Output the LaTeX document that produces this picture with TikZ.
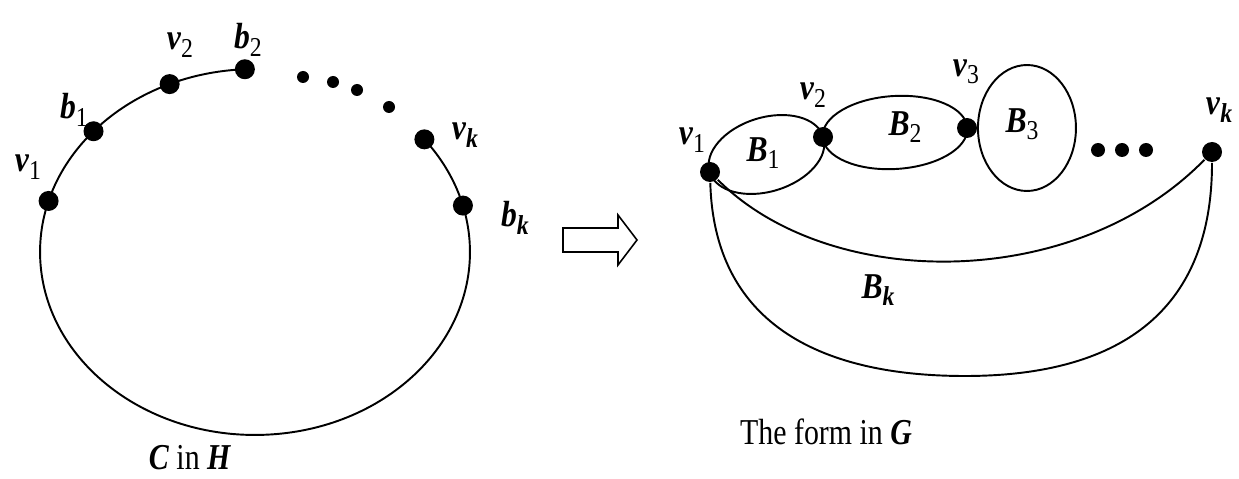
\documentclass[tikz,border=0pt]{standalone}
\usepackage{fontspec}
\setmainfont{Liberation Serif}
\usetikzlibrary{positioning}

\newcommand{\sym}[2]{\textbf{\textit{#1}}\raisebox{-0.45ex}{\fontsize{13.5}{13.5}\selectfont #2}}
\newcommand{\kk}{\textbf{\textit{k}}}

\begin{document}
\begin{tikzpicture}[
    x=0.02cm, y=0.02cm,
    line width=1.1pt,
    font=\fontsize{18}{21}\selectfont,
    vertex/.style={circle, fill=black, inner sep=0pt, minimum size=0.4cm},
    smalldot/.style={circle, fill=black, inner sep=0pt, minimum size=0.24cm},
    lab/.style={inner sep=0pt, yscale=1.15},
    caption/.style={inner sep=0pt, yscale=1.22, font=\fontsize{17}{20}\selectfont}
]
\useasboundingbox (0,0) rectangle (1239,-479);

% Left: the cycle C in H
\coordinate (c) at (255,-252);
\node[vertex] (v1) at ([shift={(163.8:4.3cm and 3.66cm)}]c) {};
\node[vertex] (b1) at ([shift={(138.7:4.3cm and 3.66cm)}]c) {};
\node[vertex] (v2) at ([shift={(113.4:4.3cm and 3.66cm)}]c) {};
\node[vertex] (b2) at ([shift={(92.7:4.3cm and 3.66cm)}]c) {};
\node[vertex] (vk) at ([shift={(38:4.3cm and 3.66cm)}]c) {};
\node[vertex] (bk) at ([shift={(14.7:4.3cm and 3.66cm)}]c) {};
\draw (b2.center) arc[start angle=92.7, end angle=398, x radius=4.3cm, y radius=3.66cm];

\node[smalldot] (d1) at (303,-77) {};
\node[smalldot] (d2) at (333,-82) {};
\node[smalldot] (d3) at (357,-90) {};
\node[smalldot] (d4) at (389,-107) {};

\node[lab] (lv1) at (28,-167) {\sym{v}{1}};
\node[lab] (lb1) at (74,-110) {\sym{b}{1}};
\node[lab] (lv2) at (180,-45) {\sym{v}{2}};
\node[lab] (lb2) at (248,-40) {\sym{b}{2}};
\node[lab] (lvk) at (465,-135) {\sym{v}{\kk}};
\node[lab] (lbk) at (515,-218) {\sym{b}{\kk}};

\node[caption] (capH) at (190,-458) {\textbf{\textit{C}} in \textbf{\textit{H}}};

% Arrow between the two pictures
\draw[line width=0.9pt] (563,-228) -- (618,-228) -- (618,-215) -- (637,-240)
    -- (618,-265) -- (618,-252) -- (563,-252) -- cycle;

% Right: the form in G
\node[vertex] (g1) at (710,-172) {};
\node[vertex] (g2) at (823,-137) {};
\node[vertex] (g3) at (967,-128) {};
\node[vertex] (gk) at (1212,-152) {};

\path (g1) -- (g2) coordinate[midway] (m1);
\path (g2) -- (g3) coordinate[midway] (m2);
\coordinate[right=0.98cm of g3] (m3);
\coordinate (bot) at (965,-376);

\draw[rotate around={17.2:(m1)}] (m1) ellipse[x radius=1.19cm, y radius=0.74cm];
\draw[rotate around={3.6:(m2)}] (m2) ellipse[x radius=1.45cm, y radius=0.73cm];
\draw (m3) ellipse[x radius=0.98cm, y radius=1.26cm];
\draw (g1) .. controls (830,-292) and (1075,-292) .. (gk);
\draw (g1) .. controls (714,-320) and (815,-376) .. (bot)
    .. controls (1115,-376) and (1212,-315) .. (gk);

\node[smalldot, minimum size=0.28cm] (e1) at (1098,-150) {};
\node[smalldot, minimum size=0.28cm] (e2) at (1122,-150) {};
\node[smalldot, minimum size=0.28cm] (e3) at (1146,-150) {};

\node[lab] (lg1) at (692,-140) {\sym{v}{1}};
\node[lab] (lg2) at (813,-95) {\sym{v}{2}};
\node[lab] (lg3) at (966,-72) {\sym{v}{3}};
\node[lab] (lgk) at (1219,-110) {\sym{v}{\kk}};

\node[lab] (nB1) at (763,-153) {\sym{B}{1}};
\node[lab] (nB2) at (905,-127) {\sym{B}{2}};
\node[lab] (nB3) at (1022,-124) {\sym{B}{3}};
\node[lab] (nBk) at (878,-290) {\sym{B}{\kk}};

\node[caption] (capG) at (826,-432) {The form in \textbf{\textit{G}}};
\end{tikzpicture}
\end{document}
